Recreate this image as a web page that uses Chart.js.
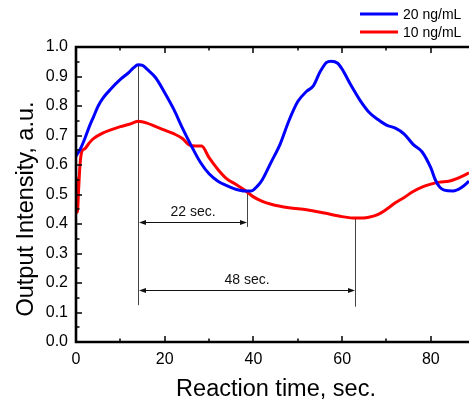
<!DOCTYPE html>
<html>
<head>
<meta charset="utf-8">
<script src="https://cdn.jsdelivr.net/npm/chart.js@4.4.1/dist/chart.umd.min.js"></script>
<style>
  body { margin: 0; background: #fff; overflow: hidden; }
</style>
</head>
<body>
<canvas id="mychart" width="469" height="399"></canvas>
<script>
// 20 ng/mL
var time20 = [0, 1, 2, 3, 4, 5, 6, 8, 10, 12, 13, 14, 15, 16, 18, 20, 22, 24, 26, 28, 30, 32, 34, 36, 38, 39.5, 41, 42, 44, 46, 48, 50, 52, 53.5, 55, 56.5, 57.5, 59, 60, 62, 64, 66, 68, 70, 72, 74, 76, 78, 80, 81, 82, 83, 85, 87, 88.6];
var intensity20 = [0.63, 0.655, 0.69, 0.73, 0.765, 0.80, 0.825, 0.86, 0.89, 0.915, 0.93, 0.94, 0.938, 0.925, 0.895, 0.845, 0.79, 0.725, 0.665, 0.61, 0.57, 0.545, 0.53, 0.518, 0.512, 0.512, 0.53, 0.55, 0.61, 0.67, 0.75, 0.815, 0.85, 0.868, 0.915, 0.948, 0.952, 0.945, 0.925, 0.87, 0.82, 0.78, 0.755, 0.735, 0.725, 0.705, 0.67, 0.645, 0.59, 0.55, 0.525, 0.515, 0.512, 0.525, 0.545];

// 10 ng/mL
var time10 = [0, 0.3, 0.6, 0.9, 1.3, 2, 3, 4, 6, 8, 10, 12, 14, 16, 18, 20, 22, 24, 25.5, 27, 28.3, 30, 32, 34, 36, 38, 40, 42, 44, 48, 52, 56, 60, 63, 66, 68, 70, 72, 74, 76, 78, 80, 82, 84, 86, 88.6];
var intensity10 = [0.56, 0.44, 0.52, 0.6, 0.645, 0.655, 0.675, 0.69, 0.708, 0.72, 0.73, 0.738, 0.748, 0.742, 0.73, 0.718, 0.706, 0.69, 0.668, 0.664, 0.664, 0.625, 0.585, 0.553, 0.535, 0.515, 0.492, 0.477, 0.467, 0.455, 0.448, 0.437, 0.425, 0.42, 0.423, 0.432, 0.45, 0.472, 0.49, 0.51, 0.525, 0.535, 0.542, 0.545, 0.555, 0.573];

var seriesLabels = ["20 ng/mL", "10 ng/mL"];

// vertical marker lines (time, from, to)
var markerTime = [14, 38.5, 62.8];
var markerFrom = [0.125, 0.39, 0.12];
var markerTo = [0.94, 0.51, 0.42];

// double arrows between markers
var spanStart = [14, 14];
var spanEnd = [38.5, 62.8];
var spanLevel = [0.408, 0.176];
var spanLabels = ["22 sec."];
spanLabels.push("48 sec.");

var xTitle = "Reaction time, sec.";
var yTitle = "Output Intensity, a.u.";

var FONT = "'Liberation Sans', Arial, sans-serif";

function pts(xs, ys) {
    return xs.map(function(t, i){ return {x: t, y: ys[i]}; });
}

function arrowHead(ctx, x, y, dir) {
    ctx.beginPath();
    ctx.moveTo(x, y);
    ctx.lineTo(x - dir * 7, y - 2.5);
    ctx.lineTo(x - dir * 7, y + 2.5);
    ctx.closePath();
    ctx.fill();
}

var extras = {
    id: 'extras',
    beforeDatasetsDraw: function(chart) {
        var ctx = chart.ctx, xs = chart.scales.x, ys = chart.scales.y;
        ctx.save();
        ctx.strokeStyle = '#444';
        ctx.fillStyle = '#111';
        ctx.lineWidth = 1;
        for (var i = 0; i < markerTime.length; i++) {
            var px = Math.round(xs.getPixelForValue(markerTime[i])) + 0.5;
            ctx.beginPath();
            ctx.moveTo(px, ys.getPixelForValue(markerFrom[i]));
            ctx.lineTo(px, ys.getPixelForValue(markerTo[i]));
            ctx.stroke();
        }
        ctx.strokeStyle = '#111';
        for (var j = 0; j < spanStart.length; j++) {
            var x1 = Math.round(xs.getPixelForValue(spanStart[j])) + 1;
            var x2 = Math.round(xs.getPixelForValue(spanEnd[j]));
            var py = Math.round(ys.getPixelForValue(spanLevel[j])) + 0.5;
            ctx.beginPath();
            ctx.moveTo(x1 + 3, py);
            ctx.lineTo(x2 - 3, py);
            ctx.stroke();
            arrowHead(ctx, x1, py, -1);
            arrowHead(ctx, x2, py, 1);
            ctx.font = '14px ' + FONT;
            ctx.textAlign = 'center';
            ctx.textBaseline = 'alphabetic';
            ctx.fillText(spanLabels[j], (x1 + x2) / 2, py - 6.5);
        }
        ctx.restore();
    },
    afterDraw: function(chart) {
        var ctx = chart.ctx, a = chart.chartArea;
        var xs = chart.scales.x, ys = chart.scales.y;
        ctx.save();
        ctx.strokeStyle = '#000';
        // ticks pointing inward
        ctx.lineWidth = 1.5;
        xs.ticks.forEach(function(t){
            var px = Math.round(xs.getPixelForValue(t.value));
            var len = (t.value % 20 === 0) ? 6 : 3.5;
            ctx.beginPath();
            ctx.moveTo(px, a.bottom); ctx.lineTo(px, a.bottom - len);
            ctx.moveTo(px, a.top); ctx.lineTo(px, a.top + len);
            ctx.stroke();
        });
        ys.ticks.forEach(function(t){
            var py = Math.round(ys.getPixelForValue(t.value));
            var len = (Math.round(t.value * 100) % 10 === 0) ? 6 : 3.5;
            ctx.beginPath();
            ctx.moveTo(a.left, py); ctx.lineTo(a.left + len, py);
            ctx.stroke();
        });
        // frame
        ctx.lineWidth = 2.6;
        ctx.beginPath();
        ctx.moveTo(a.right, a.top);
        ctx.lineTo(a.left, a.top);
        ctx.lineTo(a.left, a.bottom);
        ctx.lineTo(a.right, a.bottom);
        ctx.stroke();

        // axis titles
        ctx.fillStyle = '#000';
        ctx.font = '23.5px ' + FONT;
        ctx.textAlign = 'center';
        ctx.textBaseline = 'alphabetic';
        ctx.fillText(xTitle, 276, 396);
        ctx.translate(32.5, 209);
        ctx.rotate(-Math.PI / 2);
        ctx.fillText(yTitle, 0, 0);
        ctx.setTransform(1, 0, 0, 1, 0, 0);

        // legend
        ctx.font = '14px ' + FONT;
        ctx.textAlign = 'left';
        ctx.textBaseline = 'middle';
        chart.data.datasets.forEach(function(ds, i){
            var ly = 14 + i * 18;
            ctx.strokeStyle = ds.borderColor;
            ctx.lineWidth = 3;
            ctx.beginPath();
            ctx.moveTo(360, ly); ctx.lineTo(398, ly);
            ctx.stroke();
            ctx.fillStyle = '#000';
            ctx.fillText(ds.label, 403, ly + 1);
        });
        ctx.restore();
    }
};

var mychart = document.getElementById("mychart").getContext('2d');

var chart = new Chart(mychart, {
    type: 'line',
    data: {
        datasets: [
            {
                label: seriesLabels[0],
                data: pts(time20, intensity20),
                borderColor: "#0000ff",
                borderWidth: 3,
                pointRadius: 0,
                cubicInterpolationMode: 'monotone'
            },
            {
                label: seriesLabels[1],
                data: pts(time10, intensity10),
                borderColor: "#ff0000",
                borderWidth: 3,
                pointRadius: 0,
                cubicInterpolationMode: 'monotone'
            }
        ]
    },
    options: {
        responsive: false,
        animation: false,
        devicePixelRatio: 1,
        layout: { padding: { top: 47, left: 0, right: 0, bottom: 0 } },
        plugins: { legend: { display: false }, tooltip: { enabled: false } },
        scales: {
            x: {
                type: 'linear',
                min: 0,
                max: 88.6,
                grid: { display: false, drawTicks: false },
                border: { display: false },
                ticks: {
                    stepSize: 10,
                    includeBounds: false,
                    autoSkip: false,
                    maxRotation: 0,
                    padding: 8,
                    color: '#000',
                    font: { family: FONT, size: 16 },
                    callback: function(v){ return v % 20 === 0 ? String(v) : ''; }
                },
                afterFit: function(s){ s.height = 57; }
            },
            y: {
                min: 0,
                max: 1,
                grid: { display: false, drawTicks: false },
                border: { display: false },
                ticks: {
                    stepSize: 0.05,
                    autoSkip: false,
                    padding: 8,
                    color: '#000',
                    font: { family: FONT, size: 16 },
                    callback: function(v){ return Math.round(v * 100) % 10 === 0 ? v.toFixed(1) : ''; }
                },
                afterFit: function(s){ s.width = 76; }
            }
        }
    },
    plugins: [extras]
});
</script>
</body>
</html>
